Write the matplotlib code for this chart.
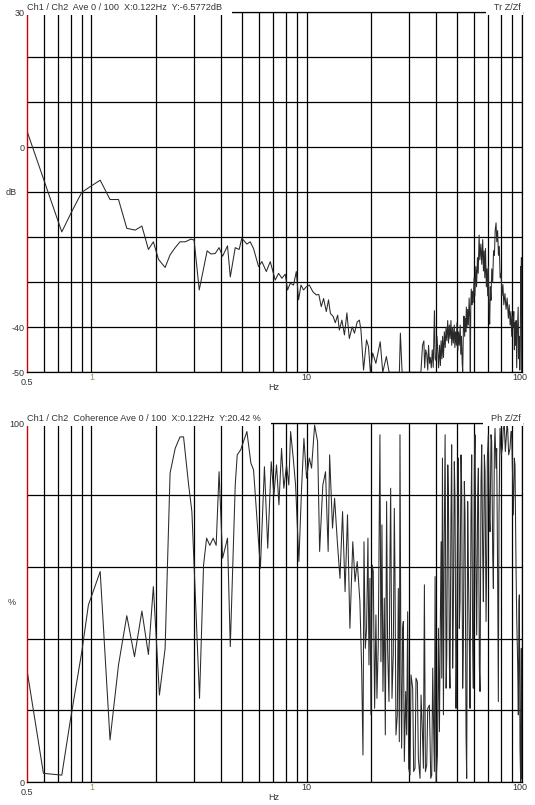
import numpy as np
import matplotlib.pyplot as plt
from matplotlib.ticker import NullLocator

plt.rcParams['font.family'] = ['Liberation Sans', 'DejaVu Sans']

# --- transfer function Z/Zf magnitude, dB ---
tr_freq = [0.50, 0.728, 0.796, 0.855, 0.902, 0.986, 1.098, 1.22, 1.336, 1.46,
           1.597, 1.716, 1.84, 1.94, 2.05, 2.2, 2.32, 2.45, 2.58, 2.73,
           2.9, 3.0, 3.17, 3.45, 3.59, 3.76, 3.92, 4.07, 4.29, 4.42,
           4.66, 4.86, 5.0, 5.28, 5.47, 5.67, 5.98, 6.2, 6.5, 6.78,
           7.15, 7.41, 7.68, 7.96, 8.16, 8.4, 8.7, 8.96, 9.18, 9.42,
           9.68, 9.97, 10.3, 10.7, 11.1, 11.4, 11.7, 12.0, 12.35, 12.65,
           12.9, 13.3, 13.6, 13.95, 14.2, 14.6, 15.0, 15.4, 15.8, 16.3,
           16.7, 17.2, 17.6, 17.9, 18.4, 19.0, 19.4, 19.8, 20.3, 21.0,
           22.0, 22.6, 23.5, 24.2, 27.0, 27.3, 27.8,
           34.0, 34.6, 35.1, 35.4, 35.8, 36.2, 36.6, 36.9, 37.3, 37.6,
           38.0, 38.4, 38.8, 39.3, 39.6, 40.0, 40.4, 40.7, 41.1, 41.5,
           41.9, 42.2, 42.6, 42.9, 43.3, 43.7, 44.1, 44.5, 44.9, 45.3,
           45.7, 46.1, 46.5, 46.9, 47.3, 47.7, 48.1, 48.6, 48.9, 49.3,
           49.7, 50.0, 50.5, 50.9, 51.3, 51.8, 52.1, 52.5, 52.9, 53.2,
           53.6, 53.9, 54.3, 54.6, 55.0, 55.3, 55.7, 56.1, 56.5, 57.0,
           57.4, 57.7, 58.0, 58.3, 58.7, 59.0, 59.5, 60.1, 60.6, 61.2,
           61.7, 62.3, 62.8, 63.4, 63.9, 64.6, 65.2, 65.9, 66.4, 66.9,
           67.4, 67.9, 68.5, 69.0, 69.5, 70.0, 70.5, 71.0, 71.5, 72.0,
           72.6, 73.3, 74.0, 74.7, 75.3, 76.0, 76.6, 77.3, 78.0, 78.7,
           79.4, 80.2, 81.0, 81.8, 82.6, 83.6, 84.6, 85.6, 86.7, 87.5,
           88.4, 89.1, 89.9, 90.5, 91.2, 91.9, 92.5, 93.0, 93.6, 94.2,
           94.8, 95.5, 96.3, 96.9, 97.4, 98.0, 98.5, 99.0, 99.4, 99.7,
           100.0]
tr_db = [3.8, -18.8, -15.0, -12.1, -10.0, -8.75, -7.3, -11.6, -11.6, -18.0,
         -18.4, -17.5, -22.7, -21.0, -24.9, -26.7, -23.9, -22.3, -21.0, -21.0,
         -20.4, -20.6, -31.7, -23.0, -23.7, -23.6, -22.3, -24.2, -21.9, -28.8,
         -22.3, -22.7, -20.2, -21.5, -21.0, -22.5, -26.5, -25.4, -27.6, -25.4,
         -29.5, -28.0, -29.1, -28.2, -31.7, -30.2, -30.6, -27.6, -33.9, -30.6,
         -31.7, -31.0, -30.6, -32.1, -32.8, -32.7, -35.4, -33.6, -36.5, -33.9,
         -36.9, -37.6, -39.0, -37.3, -40.6, -38.4, -41.7, -36.8, -42.5, -39.9,
         -41.3, -38.8, -38.4, -40.6, -49.5, -42.8, -44.3, -50.0, -45.7, -48.0,
         -43.2, -50.0, -46.5, -50.0, -50.0, -41.3, -50.0,
         -50.0, -44.0, -43.0, -49.0, -45.0, -46.0, -49.5, -44.0, -48.0, -46.7,
         -49.0, -45.0, -48.9, -36.3, -47.0, -47.4, -42.0, -45.2, -49.0, -44.0,
         -48.5, -43.0, -47.0, -42.0, -46.7, -41.0, -44.5, -40.0, -43.0, -38.5,
         -43.5, -39.5, -42.5, -38.5, -44.0, -40.0, -43.5, -39.5, -44.5, -41.0,
         -44.0, -39.0, -45.2, -41.0, -44.0, -39.5, -46.0, -42.0, -48.0, -49.8,
         -40.0, -37.5, -42.0, -38.0, -41.0, -35.5, -40.0, -36.0, -39.5, -33.5,
         -38.0, -50.0, -35.0, -31.5, -35.0, -32.0, -34.5, -29.0, -33.0, -26.5,
         -31.0, -24.5, -28.0, -19.5, -25.0, -21.5, -26.0, -20.5, -27.5, -23.0,
         -29.0, -22.5, -31.0, -27.0, -33.0, -26.5, -36.0, -39.3, -31.0, -34.0,
         -27.0, -30.0, -23.0, -24.0, -18.5, -16.8, -21.0, -18.5, -24.0, -22.0,
         -29.0, -28.0, -33.0, -30.5, -35.0, -32.5, -36.0, -33.5, -38.0, -35.0,
         -39.5, -36.5, -42.0, -37.5, -40.0, -36.5, -45.0, -39.0, -44.0, -38.5,
         -49.0, -41.0, -35.5, -47.0, -42.0, -49.5, -45.0, -26.5, -36.0, -24.5,
         -50.0]

# --- coherence, % ---
coh_freq = [0.50, 0.598, 0.728, 0.796, 0.902, 0.968, 1.098, 1.22, 1.336, 1.46,
            1.585, 1.716, 1.84, 1.94, 2.07, 2.2, 2.32, 2.45, 2.58, 2.68,
            2.83, 2.93, 3.18, 3.32, 3.43, 3.55, 3.68, 3.8, 3.92, 4.07,
            4.29, 4.42, 4.66, 4.76, 4.94, 5.28, 5.51, 5.67, 6.1, 6.37,
            6.6, 6.85, 7.05, 7.25, 7.44, 7.65, 7.84, 8.07, 8.27, 8.43,
            8.67, 8.89, 9.21, 9.48, 9.72, 10.0, 10.3, 10.55, 10.9, 11.25,
            11.5, 11.9, 12.25, 12.6, 12.8, 13.2, 13.5, 13.9, 14.3, 14.7,
            15.1, 15.5, 15.9, 16.4, 16.8, 17.2, 17.70,
            18.03, 18.29, 18.49, 18.75, 19.01, 19.29, 19.50, 19.71, 19.92, 20.20,
            20.42, 20.72, 21.01, 21.24, 21.54, 21.93, 22.17, 22.41, 22.65, 22.98,
            23.23, 23.56, 23.81, 24.16, 24.42, 24.60, 24.95, 25.30, 25.58, 25.76,
            26.04, 26.42, 26.70, 26.99, 27.18, 27.47, 27.67, 27.97, 28.17, 28.48,
            28.89, 29.20, 29.51, 29.83, 30.26, 30.59, 31.14, 31.47, 31.93, 32.27,
            32.74, 33.09, 33.69, 34.06, 34.55, 34.92, 35.30, 35.68, 36.19, 36.58,
            37.24, 37.78, 38.18, 38.59, 38.87, 39.29, 39.58, 40.00, 40.58, 41.02,
            41.46, 41.76, 42.21, 42.51, 42.82, 43.28, 43.59, 44.06, 44.54, 44.85,
            45.34, 45.66, 46.16, 46.42, 46.92, 47.26, 47.77, 48.11, 48.63, 48.98,
            49.51, 49.87, 50.41, 50.76, 51.31, 51.68, 52.24, 52.61, 53.18, 53.56,
            54.14, 54.53, 55.12, 55.51, 56.11, 56.50, 57.11, 57.52, 58.14, 58.56,
            59.19, 59.61, 60.26, 60.69, 61.34, 61.78, 62.45, 62.90, 63.58, 64.03,
            64.72, 65.19, 65.89, 66.36, 67.08, 67.56, 68.29, 68.78, 69.27, 69.98,
            70.75, 71.26, 72.03, 72.55, 73.33, 73.86, 74.65, 75.16, 75.97, 76.52,
            77.35, 77.90, 78.46, 79.31, 80.44, 81.30, 82.17, 83.06, 83.96, 84.56,
            85.47, 86.08, 87.01, 88.24, 89.20, 89.84, 90.80, 91.45, 92.44, 93.11,
            94.11, 94.78, 95.81, 96.49, 97.18, 97.53, 98.23, 98.94, 99.64, 100.0]
coh_pct = [31.8, 2.5, 2.0, 16.9, 36.4, 49.4, 58.7, 11.8, 32.7, 46.4,
           35.0, 47.7, 35.6, 54.5, 24.3, 37.3, 86.1, 93.0, 96.2, 96.2,
           82.8, 75.4, 23.4, 60.5, 68.0, 66.0, 68.0, 66.0, 86.5, 62.4,
           68.0, 37.8, 82.8, 91.2, 92.6, 97.7, 88.9, 87.0, 59.6, 87.9,
           65.2, 89.3, 80.0, 88.4, 77.3, 93.0, 81.9, 88.4, 82.8, 97.7,
           90.3, 82.8, 61.5, 81.9, 95.8, 84.7, 90.3, 87.5, 99.5, 94.9,
           64.3, 82.8, 86.5, 64.3, 91.2, 70.8, 79.1, 67.0, 56.8, 75.4,
           53.1, 74.5, 42.9, 67.0, 55.9, 61.5, 50.3,
           31.8, 7.6, 67.0, 37.3, 42.9, 68.0, 32.7, 56.8, 18.8, 60.5,
           58.7, 20.6, 46.6, 23.4, 38.3, 96.8, 33.6, 71.7, 25.3, 51.3,
           13.2, 78.2, 37.3, 22.5, 63.3, 81.9, 23.4, 35.5, 76.3, 58.7,
           13.2, 18.8, 54.0, 11.3, 96.8, 28.0, 9.5, 42.9, 44.8, 5.8,
           25.3, 13.2, 47.5, 3.9, 2.0, 29.9, 26.2, 3.0, 3.9, 29.0,
           28.0, 6.7, 1.1, 24.3, 14.1, 3.9, 55.0, 3.0, 4.8, 20.6,
           21.5, 1.1, 2.0, 31.8, 18.8, 3.0, 57.3, 0.2, 7.6, 42.9,
           14.1, 37.3, 67.0, 29.0, 90.3, 18.8, 63.3, 96.8, 26.2, 35.5,
           88.4, 79.1, 31.8, 26.2, 74.5, 94.0, 31.8, 46.6, 89.3, 79.1,
           20.6, 37.3, 78.2, 90.3, 42.9, 50.3, 91.2, 81.9, 26.2, 37.3,
           83.8, 74.5, 13.2, 1.1, 78.2, 60.5, 39.2, 20.6, 74.5, 91.2,
           37.3, 26.2, 87.5, 96.8, 55.9, 41.0, 80.0, 87.5, 31.8, 25.3,
           83.8, 94.0, 63.3, 50.3, 91.2, 86.5, 44.8, 61.5, 90.3, 96.8,
           74.5, 69.8, 96.8, 94.9, 63.3, 54.0, 92.1, 98.6, 87.5, 93.0,
           55.9, 22.5, 74.5, 98.6, 91.2, 93.0, 98.6, 99.5, 92.1, 94.9,
           99.5, 98.6, 91.2, 93.0, 97.7, 97.7, 83.8, 74.5, 90.3, 88.4,
           60.5, 46.6, 32.7, 18.8, 50.3, 52.2, 9.5, 0.0, 37.3, 1.0]

grid_freqs = [0.6, 0.7, 0.8, 0.9, 1, 2, 3, 4, 5, 6, 7, 8, 9,
              10, 20, 30, 40, 50, 60, 70, 80, 90, 100]
freq_labels = ['0.5', '1', '10', '100']
freq_label_pos = [0.5, 1, 10, 100]

tr_yticks = [30, 20, 10, 0, -10, -20, -30, -40, -50]
tr_ylabels = ['30', '', '', '0', '', '', '', '-40', '-50']
coh_yticks = [100, 80, 60, 40, 20, 0]
coh_ylabels = ['100', '', '', '', '', '0']

TXT = '#333333'


def setup(ax, yticks, ylabels, ylim, unit, unit_val, title, right_title):
    ax.set_xscale('log')
    ax.set_xlim(0.5, 100)
    ax.set_ylim(*ylim)
    ax.set_xticks(grid_freqs)
    ax.set_xticklabels([''] * len(grid_freqs))
    ax.xaxis.set_minor_locator(NullLocator())
    ax.set_yticks(yticks)
    ax.set_yticklabels(ylabels, fontsize=6.5, color=TXT)
    ax.tick_params(length=0)
    ax.tick_params(axis='y', pad=1.5)
    ax.grid(True, color='black', lw=0.9)
    for s in ['top', 'right', 'bottom']:
        ax.spines[s].set_color('black')
        ax.spines[s].set_linewidth(0.9)
    ax.spines['left'].set_color('#cc0000')
    ax.spines['left'].set_linewidth(1.0)

    # frequency labels under the axis
    for f, lab in zip(freq_label_pos, freq_labels):
        dy = -7.5 if lab == '0.5' else -4.0
        col = '#a08868' if lab == '1' else TXT
        ax.annotate(lab, xy=(f, 0), xycoords=('data', 'axes fraction'),
                    xytext=(-1.5 if lab == '100' else 0, dy),
                    textcoords='offset points', ha='center', va='center',
                    fontsize=6.5, color=col, annotation_clip=False)
    ax.annotate('Hz', xy=(0.5, 0), xycoords='axes fraction',
                xytext=(0, -11), textcoords='offset points',
                ha='center', va='center', fontsize=6.5, color=TXT)
    ax.annotate(unit, xy=(0, unit_val), xycoords=('axes fraction', 'data'),
                xytext=(-11, 0), textcoords='offset points',
                ha='center', va='center', fontsize=6.5, color=TXT)

    box = dict(facecolor='white', edgecolor='none', pad=2.2)
    ax.annotate(title + '   ', xy=(0, 1), xycoords='axes fraction',
                xytext=(0, 1.8), textcoords='offset points',
                ha='left', va='baseline', fontsize=6.6, color=TXT,
                bbox=box, zorder=5)
    ax.annotate('  ' + right_title, xy=(1, 1), xycoords='axes fraction',
                xytext=(-1, 1.8), textcoords='offset points',
                ha='right', va='baseline', fontsize=6.6, color=TXT,
                bbox=box, zorder=5)


def main():
    fig = plt.figure(figsize=(5.35, 8.05), dpi=100)
    ax1 = fig.add_axes([0.0499, 0.5375, 0.9252, 0.4472])
    ax2 = fig.add_axes([0.0499, 0.0282, 0.9252, 0.4460])

    ax1.plot(tr_freq, tr_db, color='#2a2a2a', lw=0.75)
    setup(ax1, tr_yticks, tr_ylabels, (-50, 30), 'dB', -10,
          'Ch1 / Ch2  Ave 0 / 100  X:0.122Hz  Y:-6.5772dB', 'Tr Z/Zf')

    ax2.plot(coh_freq, coh_pct, color='#2a2a2a', lw=0.75)
    setup(ax2, coh_yticks, coh_ylabels, (0, 100), '%', 50,
          'Ch1 / Ch2  Coherence Ave 0 / 100  X:0.122Hz  Y:20.42 %', 'Ph Z/Zf')

    fig.savefig('out.png', dpi=100)


if __name__ == '__main__':
    main()
